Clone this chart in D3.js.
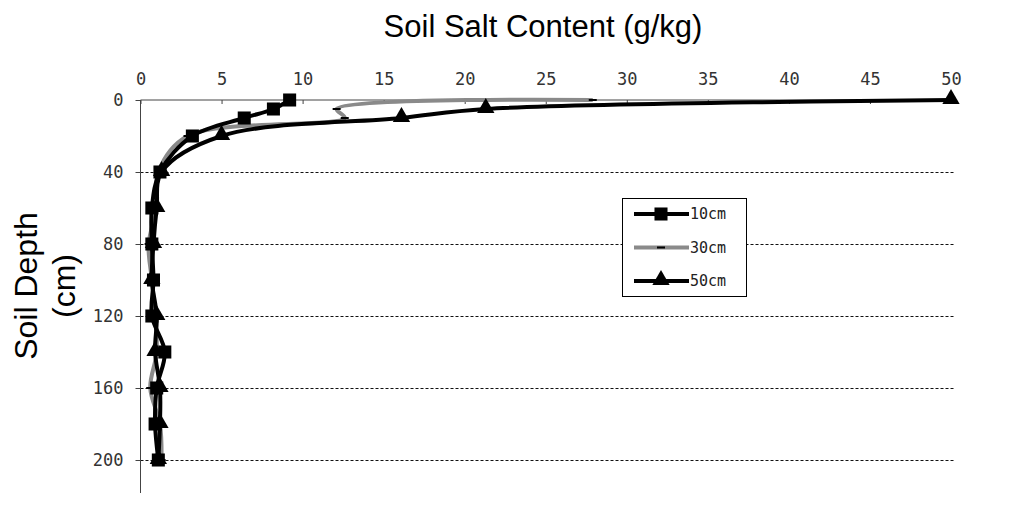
<!DOCTYPE html>
<html>
<head>
<meta charset="utf-8">
<script src="https://cdn.jsdelivr.net/npm/d3@7/dist/d3.min.js"></script>
<style>
  html, body { margin: 0; padding: 0; background: #fff; }
  svg { display: block; }
</style>
</head>
<body>
<svg id="chart" width="1009" height="522"></svg>
<script>
// Soil depth (cm) of each sample
const depths = [0, 5, 10, 20, 40, 60, 80, 100, 120, 140, 160, 180, 200];
// Salt content (g/kg) per series
const salt10 = [9.2, 8.2, 6.4, 3.2, 1.2, 0.7, 0.7, 0.8, 0.7, 1.5, 1.0, 0.9, 1.1];
const salt30 = [27.9, 12.1, 12.6, 2.9, 1.1, 1.0, 0.5, 0.7, 0.9, 1.0, 0.6, 1.2, 1.3];
const salt50 = [50.0, 21.3, 16.1, 5.0, 1.3, 1.0, 0.8, 0.7, 1.0, 0.9, 1.2, 1.2, 1.1];
const seriesNames = ["10cm", "30cm", "50cm"];
const xTicks = [0, 5, 10, 15, 20, 25, 30, 35, 40, 45, 50];
const yTicks = [0, 40, 80, 120, 160, 200];

const svg = d3.select("#chart");
const x = d3.scaleLinear().domain([0, 50]).range([140.5, 951]);
const y = d3.scaleLinear().domain([0, 200]).range([100, 460]);
const tickFont = "'DejaVu Sans Mono', monospace";

// Dashed horizontal gridlines
svg.append("g").selectAll("line").data(yTicks.filter(d => d > 0)).join("line")
  .attr("x1", x(0)).attr("x2", 955)
  .attr("y1", d => y(d) + 0.5).attr("y2", d => y(d) + 0.5)
  .attr("stroke", "#111").attr("stroke-width", 1).attr("stroke-dasharray", "3,2");

// Top x axis
const xAxis = svg.append("g").attr("transform", `translate(0,${y(0)})`)
  .call(d3.axisTop(x).tickValues(xTicks).tickSizeInner(-4).tickSizeOuter(0).tickPadding(15));
xAxis.select(".domain").attr("d", `M${x(0)},0H953`).attr("stroke", "#444");
xAxis.selectAll(".tick line").attr("stroke", "#444");
xAxis.selectAll("text").attr("font-family", tickFont).attr("font-size", 17).attr("fill", "#333");

// Left y axis
const yAxis = svg.append("g").attr("transform", `translate(${x(0)},0)`)
  .call(d3.axisLeft(y).tickValues(yTicks).tickSizeInner(5).tickSizeOuter(0).tickPadding(12));
yAxis.select(".domain").attr("d", `M0,${y(0)}V493`).attr("stroke", "#444");
yAxis.selectAll(".tick line").attr("stroke", "#444");
yAxis.selectAll("text").attr("font-family", tickFont).attr("font-size", 17).attr("fill", "#333");

// Axis titles
svg.append("text").attr("x", 543).attr("y", 37).attr("text-anchor", "middle")
  .attr("font-family", "'Liberation Sans', Arial, sans-serif").attr("font-size", 31)
  .text("Soil Salt Content (g/kg)");
const yTitle = svg.append("text").attr("transform", "translate(0,286) rotate(-90)")
  .attr("text-anchor", "middle").attr("font-family", "'Liberation Sans', Arial, sans-serif")
  .attr("font-size", 32);
yTitle.append("tspan").attr("x", 0).attr("y", 37).text("Soil Depth");
yTitle.append("tspan").attr("x", 0).attr("y", 75).text("(cm)");

// Marker shapes
const square = d3.symbol().type(d3.symbolSquare).size(170);
const triangle = d3.symbol().type(d3.symbolTriangle).size(130);

const series = [
  { name: seriesNames[0], values: salt10, color: "#000", marker: "square" },
  { name: seriesNames[1], values: salt30, color: "#8a8a8a", marker: "dash" },
  { name: seriesNames[2], values: salt50, color: "#000", marker: "triangle" }
];

const line = d3.line().x(d => x(d.v)).y(d => y(d.d)).curve(d3.curveCatmullRom.alpha(0.5));

function drawMarker(g, kind, cx, cy) {
  if (kind === "square") {
    g.append("path").attr("d", square()).attr("transform", `translate(${cx},${cy})`).attr("fill", "#000");
  } else if (kind === "triangle") {
    g.append("path").attr("d", triangle()).attr("transform", `translate(${cx},${cy - 1})`).attr("fill", "#000");
  } else {
    g.append("rect").attr("x", cx - 4).attr("y", cy - 1).attr("width", 8).attr("height", 2).attr("fill", "#000");
  }
}

// Draw order: gray first, then the black series on top
[series[1], series[0], series[2]].forEach(s => {
  const pts = depths.map((d, i) => ({ d, v: s.values[i] }));
  const g = svg.append("g");
  g.append("path").attr("d", line(pts)).attr("fill", "none")
    .attr("stroke", s.color).attr("stroke-width", 4).attr("stroke-linejoin", "round");
  pts.forEach(p => drawMarker(g, s.marker, x(p.v), y(p.d)));
});

// Legend
const lg = svg.append("g");
lg.append("rect").attr("x", 622.5).attr("y", 198.5).attr("width", 124).attr("height", 98)
  .attr("fill", "#fff").attr("stroke", "#000").attr("stroke-width", 1);
series.forEach((s, i) => {
  const cy = 214 + i * 33.5;
  lg.append("line").attr("x1", 634).attr("x2", 689).attr("y1", cy).attr("y2", cy)
    .attr("stroke", s.color).attr("stroke-width", 4);
  drawMarker(lg, s.marker, 661, cy);
  lg.append("text").attr("x", 690).attr("y", cy + 5).attr("font-family", tickFont)
    .attr("font-size", 15).attr("fill", "#222").text(s.name);
});
</script>
</body>
</html>
